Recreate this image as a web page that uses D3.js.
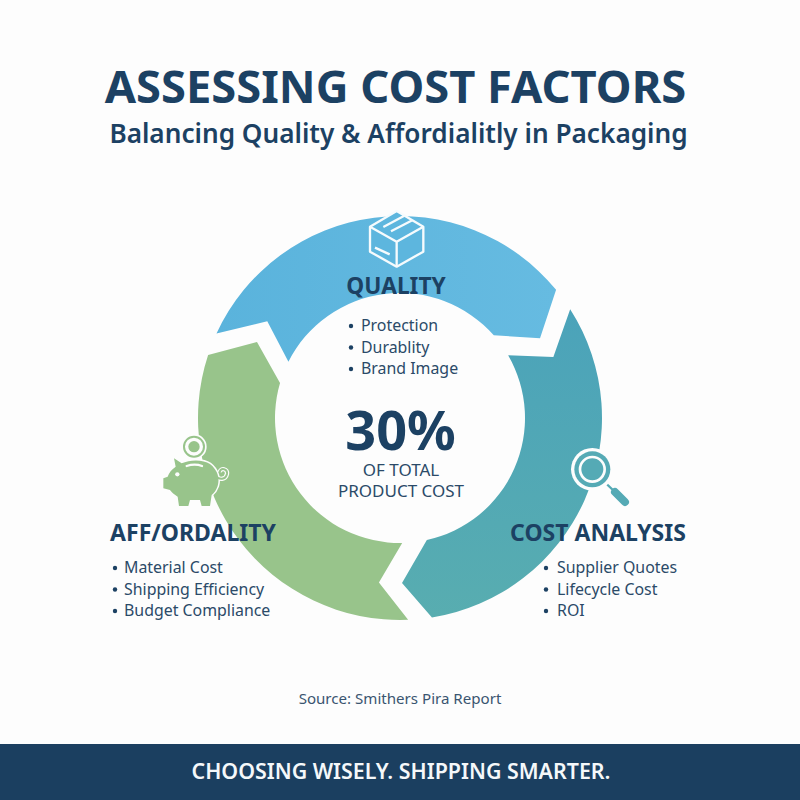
<!DOCTYPE html>
<html><head><meta charset="utf-8">
<script src="https://cdn.jsdelivr.net/npm/d3@7/dist/d3.min.js"></script>
<style>html,body{margin:0;padding:0;background:#fdfdfd}svg{display:block}text{font-family:"Noto Sans",sans-serif}</style>
</head><body><svg id="c" width="800" height="800"></svg>
<script>
const categories=["QUALITY","COST ANALYSIS","AFF/ORDALITY"];
const qualityItems=["Protection","Durablity","Brand Image"];
const costItems=["Supplier Quotes","Lifecycle Cost","ROI"];
const affordItems=["Material Cost","Shipping Efficiency","Budget Compliance"];
// sweep of each ring segment, degrees clockwise from north
const outerStart=[-65.3,57.4,177.7];
const outerEnd=[50.6,170.9,288.2];
const tipAngle=[60.3,179.3,298];
const innerEnd=[48.6,167.6,286.3];
const innerStart=[-63.2,59.9,179];
const notchAngle=[-53.9,68.3,187.3];
const tipDepth=[.47,.52,.48];
const notchDepth=[.51,.52,.53];
const headline="ASSESSING COST FACTORS";
const subhead="Balancing Quality & Affordialitly in Packaging";
const centerValue="30%";
const centerLines=["OF TOTAL","PRODUCT COST"];
const sourceNote="Source: Smithers Pira Report";
const tagline="CHOOSING WISELY. SHIPPING SMARTER.";

const svg=d3.select("#c");
const navy="#1c4163",body="#2b4a68",paper="#fdfdfd",green="#98c48b";
const cx=400,cy=418;
const rScale=d3.scaleLinear().domain([0,1]).range([125,202]);
const rad=d3.scaleLinear().domain([0,360]).range([0,2*Math.PI]);
const defs=svg.append("defs");
const grads=[["#5ab3dc","#66bbe1",[0,0,1,0]],["#4ba3ba","#58adb0",[0,0,0,1]],[green,green,[0,0,0,1]]];
grads.forEach((g,i)=>{const lg=defs.append("linearGradient").attr("id","g"+i)
 .attr("x1",g[2][0]).attr("y1",g[2][1]).attr("x2",g[2][2]).attr("y2",g[2][3]);
 lg.append("stop").attr("offset",0).attr("stop-color",g[0]);
 lg.append("stop").attr("offset",1).attr("stop-color",g[1]);});

svg.append("rect").attr("width",800).attr("height",800).attr("fill",paper);
const ring=svg.append("g").attr("transform",`translate(${cx},${cy})`);
function segPath(i){
 const ro=rScale(1),ri=rScale(0);
 const p=d3.path();
 const P=(a,r)=>d3.pointRadial(rad(a),r);
 const A=a=>rad(a)-Math.PI/2;
 p.moveTo(...P(outerStart[i],ro));
 p.arc(0,0,ro,A(outerStart[i]),A(outerEnd[i]));
 p.lineTo(...P(tipAngle[i],rScale(tipDepth[i])));
 p.lineTo(...P(innerEnd[i],ri));
 p.arc(0,0,ri,A(innerEnd[i]),A(innerStart[i]),true);
 p.lineTo(...P(notchAngle[i],rScale(notchDepth[i])));
 p.closePath();
 return p.toString();
}
ring.selectAll("path").data(categories).join("path").attr("d",(d,i)=>segPath(i)).attr("fill",(d,i)=>`url(#g${i})`);

function txt(s,x,y,size,weight,fill,anchor){return svg.append("text").attr("x",x).attr("y",y).attr("font-size",size).attr("font-weight",weight).attr("fill",fill).attr("text-anchor",anchor||"start").text(s);}
txt(headline,395.5,103,45.3,700,navy,"middle");
txt(subhead,398.5,142.5,26.2,600,navy,"middle");

// icons: drawn at 3x and scaled down
const box=svg.append("g").attr("transform","translate(355,205) scale(.3333)").attr("stroke","#f6fbfd").attr("stroke-width",7).attr("stroke-linejoin","round");
box.append("path").attr("d","M125,18 L205,65 L205,140 L125,185 L45,140 L45,65 Z").attr("fill","#5db6de");
box.append("path").attr("d","M45,65 L125,110 L205,65 M125,110 L125,185 M85,66 L148,32 M108,79 L172,46 M60,128 L104,148").attr("fill","none");

const pig=svg.append("g").attr("transform","translate(155,430) scale(.3333)");
const pigBody="M25,145 L38,140 C42,128 50,118 62,110 L57,85 L80,100 C105,88 145,88 165,102 C188,120 195,145 188,168 C184,180 178,188 170,195 L165,228 L140,228 L135,210 L105,210 L100,228 L72,228 L68,200 C58,194 50,187 45,180 L25,175 Z";
const tail="M183,138 C192,150 212,150 216,132 C218,116 198,112 194,126";
pig.append("path").attr("d",tail).attr("fill","none").attr("stroke",paper).attr("stroke-width",13);
pig.append("path").attr("d",pigBody).attr("fill",green).attr("stroke",paper).attr("stroke-width",9).attr("stroke-linejoin","round");
pig.append("path").attr("d",pigBody).attr("fill",green);
pig.append("path").attr("d",tail).attr("fill","none").attr("stroke",green).attr("stroke-width",6);
pig.append("path").attr("d","M95,108 C110,103 128,103 141,108").attr("fill","none").attr("stroke",paper).attr("stroke-width",7).attr("stroke-linecap","round");
pig.append("circle").attr("cx",67).attr("cy",133).attr("r",6.5).attr("fill",paper);
pig.append("circle").attr("cx",117).attr("cy",50).attr("r",38).attr("fill",paper);
pig.append("circle").attr("cx",117).attr("cy",50).attr("r",30).attr("fill","none").attr("stroke",green).attr("stroke-width",6);
pig.append("circle").attr("cx",117).attr("cy",50).attr("r",17).attr("fill",green);

const teal="#55aab5";
const mag=svg.append("g").attr("transform","translate(560,440) scale(.3333)");
mag.append("line").attr("x1",140).attr("y1",132).attr("x2",195).attr("y2",186).attr("stroke",paper).attr("stroke-width",34).attr("stroke-linecap","round");
mag.append("line").attr("x1",140).attr("y1",132).attr("x2",165).attr("y2",156).attr("stroke",teal).attr("stroke-width",7);
mag.append("line").attr("x1",165).attr("y1",156).attr("x2",195).attr("y2",186).attr("stroke",teal).attr("stroke-width",24).attr("stroke-linecap","round");
mag.append("circle").attr("cx",97).attr("cy",88).attr("r",64).attr("fill",paper);
mag.append("circle").attr("cx",97).attr("cy",88).attr("r",54).attr("fill",teal);
mag.append("circle").attr("cx",97).attr("cy",88).attr("r",37).attr("fill",teal).attr("stroke",paper).attr("stroke-width",8);

// labels
txt(categories[0],396,293.5,22.7,700,navy,"middle");
txt(categories[1],598,541,23,700,navy,"middle");
txt(categories[2],193,541,23,700,navy,"middle");
function bullets(items,xb,xt,y0){items.forEach((s,i)=>{const y=y0+i*21.5;
 svg.append("circle").attr("cx",xb).attr("cy",y-5).attr("r",2.2).attr("fill",navy);
 txt(s,xt,y,15.9,400,body);});}
bullets(qualityItems,351,361,331);
bullets(costItems,546,557,573);
bullets(affordItems,115,124,573);
txt(centerValue,400.5,450,54,700,navy,"middle");
txt(centerLines[0],401,476,17,400,body,"middle");
txt(centerLines[1],401,496.5,17,400,body,"middle");
txt(sourceNote,400,704,15.1,400,"#3a5570","middle");
svg.append("rect").attr("y",744).attr("width",800).attr("height",56).attr("fill","#1b3f60");
txt(tagline,401,779,21.4,600,"#f5f8fa","middle");
</script></body></html>
